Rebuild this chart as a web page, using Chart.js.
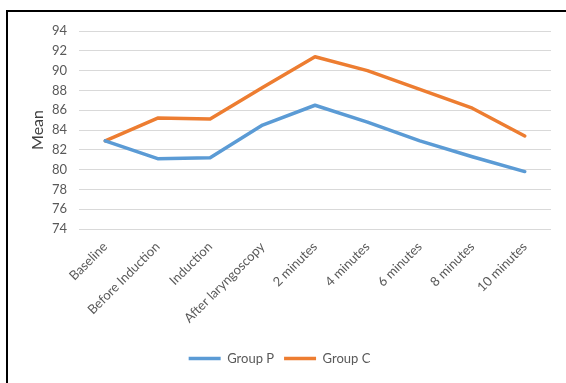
<!DOCTYPE html>
<html>
<head>
<meta charset="utf-8">
<script src="https://cdn.jsdelivr.net/npm/chart.js@4/dist/chart.umd.min.js"></script>
<style>
  html, body { margin: 0; padding: 0; background: #fff; overflow: hidden; }
  #frame {
    position: absolute; left: 6px; top: 10px; width: 600px; height: 400px;
    border-left: 2px solid #000; border-top: 2px solid #000; box-sizing: border-box;
  }
  #wrap { position: absolute; left: 0; top: 0; width: 566px; height: 383px; }
</style>
</head>
<body>
<div id="frame"></div>
<div id="wrap"><canvas id="chart"></canvas></div>
<script>
// Time points of measurement
const categories = [
  'Baseline', 'Before Induction', 'Induction', 'After laryngoscopy',
  '2 minutes', '4 minutes', '6 minutes', '8 minutes', '10 minutes'
];
// Mean values per group
const groupP = [82.9, 81.1, 81.2, 84.5, 86.5, 84.8, 82.9, 81.3, 79.8];
const groupC = [82.9, 85.2, 85.1, 88.3, 91.4, 90.0, 88.1, 86.2, 83.4];
// Value axis range
const yMin = 74, yMax = 94, yStep = 2;

const FONT = 'Lato, "Open Sans", sans-serif';
const TEXT = '#595959';

new Chart(document.getElementById('chart'), {
  type: 'line',
  data: {
    labels: categories,
    datasets: [
      { label: 'Group P', data: groupP, borderColor: '#5B9BD5', backgroundColor: '#5B9BD5',
        borderWidth: 3.5, pointRadius: 0, tension: 0, borderJoinStyle: 'round', borderCapStyle: 'round' },
      { label: 'Group C', data: groupC, borderColor: '#ED7D31', backgroundColor: '#ED7D31',
        borderWidth: 3.5, pointRadius: 0, tension: 0, borderJoinStyle: 'round', borderCapStyle: 'round' }
    ]
  },
  options: {
    responsive: true,
    maintainAspectRatio: false,
    animation: false,
    layout: { padding: { left: 8, top: 31, right: 15, bottom: 8 } },
    plugins: {
      tooltip: { enabled: false },
      legend: {
        position: 'bottom',
        labels: {
          usePointStyle: true, pointStyle: 'line', pointStyleWidth: 32,
          padding: 10, color: TEXT, font: { family: FONT, size: 13 }
        }
      }
    },
    scales: {
      x: {
        offset: true,
        grid: { display: false },
        border: { display: false },
        ticks: { color: TEXT, font: { family: FONT, size: 13 }, minRotation: 45, maxRotation: 45, padding: 2 },
        afterFit(scale) { scale.height = 113; }
      },
      y: {
        min: yMin, max: yMax,
        grid: { color: '#d9d9d9', lineWidth: 1, drawTicks: false },
        border: { display: false },
        ticks: { stepSize: yStep, color: TEXT, font: { family: FONT, size: 13 }, padding: 12 },
        title: { display: true, text: 'Mean', color: '#404040', font: { family: FONT, size: 16 }, padding: { top: 20, bottom: 0 } },
        afterFit(scale) { scale.width = 71; }
      }
    }
  }
});
</script>
</body>
</html>
